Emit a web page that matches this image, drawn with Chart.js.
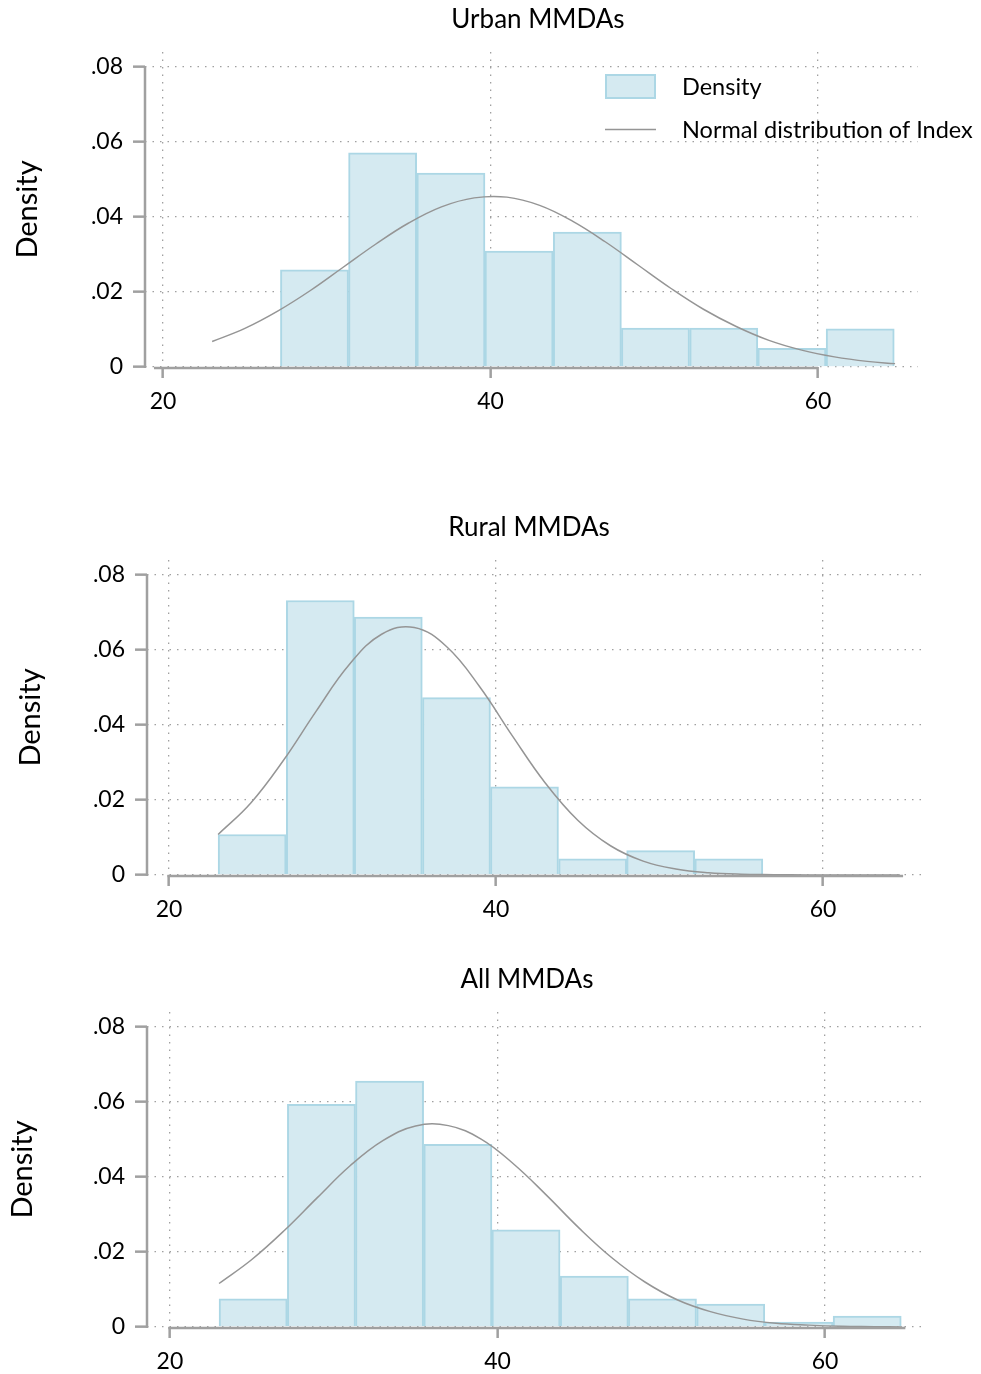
<!DOCTYPE html>
<html>
<head>
<meta charset="utf-8">
<title>Index distribution by MMDA type</title>
<script src="https://cdn.jsdelivr.net/npm/chart.js@4.4.1/dist/chart.umd.min.js"></script>
<style>
  html, body { margin: 0; padding: 0; background: #fff; }
  body { width: 981px; height: 1374px; position: relative; overflow: hidden; }
  canvas { position: absolute; left: 0; }
</style>
</head>
<body>
<canvas id="urbanChart" width="981" height="417" style="top:0"></canvas>
<canvas id="ruralChart" width="981" height="495" style="top:430px"></canvas>
<canvas id="allChart" width="981" height="444" style="top:930px"></canvas>
<script>
// histogram bins (midpoints of the Index), same bins in all three panels
const binMids = [25.08, 29.25, 33.41, 37.58, 41.74, 45.91, 50.07, 54.24, 58.40, 62.57];

const urbanDensity = [null, 0.0259, 0.0571, 0.0517, 0.0309, 0.0360, 0.0104, 0.0104, 0.0050, 0.0102];
const ruralDensity = [0.0108, 0.0732, 0.0688, 0.0473, 0.0235, 0.0043, 0.0065, 0.0043, null, null];
const allDensity   = [0.0075, 0.0594, 0.0656, 0.0487, 0.0259, 0.0136, 0.0075, 0.0061, 0.0013, 0.0029];

// normal curves
const curveX = [23, 25, 27, 29, 31, 33, 35, 37, 39, 41, 43, 45, 47, 49, 51, 53, 55, 57, 59, 61, 63, 64.7];
const urbanNormal = [0.0068, 0.0103, 0.0149, 0.0204, 0.0266, 0.0328, 0.0384, 0.0427, 0.0451, 0.0453, 0.0431,
                     0.0389, 0.0334, 0.0272, 0.0210, 0.0154, 0.0108, 0.0071, 0.0045, 0.0027, 0.0015, 0.0009];
const ruralNormal = [0.0108, 0.0192, 0.0306, 0.0437, 0.0560, 0.0642, 0.0660, 0.0608, 0.0502, 0.0371, 0.0246,
                     0.0146, 0.0078, 0.0037, 0.0016, 0.0006, 0.0002, 0.0001, 0, 0, 0, 0];
const allNormal   = [0.0116, 0.0180, 0.0258, 0.0345, 0.0430, 0.0497, 0.0536, 0.0537, 0.0501, 0.0434, 0.0351,
                     0.0263, 0.0184, 0.0120, 0.0072, 0.0041, 0.0021, 0.0010, 0.0005, 0.0002, 0.0001, 0];

const xTicks = [20, 40, 60];
const yTicks = [0, 0.02, 0.04, 0.06, 0.08];
const yTickLabels = ['0', '.02', '.04', '.06', '.08'];
const seriesLabels = ['Density', 'Normal distribution of Index'];

const FONT = 'Lato, "Open Sans", sans-serif';
const GREY = '#a0a0a0';
const BAR_FILL = '#d5eaf1';
const BAR_LINE = '#acd7e5';
const CURVE = '#959595';

// panel layout (positions only)
const panels = [
  { id: 'urbanChart', title: 'Urban MMDAs', density: urbanDensity, normal: urbanNormal,
    xMin: 18.9, xMax: 66.1, padTop: 52, padRight: 63, yWidth: 145, xHeight: 50,
    titleX: 538, titleY: 20, yTitlePad: 10, axisFrom: 19.45, axisTo: 60, legend: true },
  { id: 'ruralChart', title: 'Rural MMDAs', density: ruralDensity, normal: ruralNormal,
    xMin: 18.65, xMax: 66.24, padTop: 130, padRight: 56, yWidth: 147, xHeight: 50,
    titleX: 529, titleY: 98, yTitlePad: 13, axisFrom: 19.9, axisTo: 64.9, legend: false },
  { id: 'allChart', title: 'All MMDAs', density: allDensity, normal: allNormal,
    xMin: 18.6, xMax: 66.1, padTop: 82, padRight: 56, yWidth: 147, xHeight: 47,
    titleX: 527, titleY: 50, yTitlePad: 5, axisFrom: 19.9, axisTo: 64.9, legend: false }
];

const stataDecor = {
  id: 'stataDecor',
  afterDraw(chart, args, o) {
    const ctx = chart.ctx;
    const xs = chart.scales.x, ys = chart.scales.y;
    const left = chart.chartArea.left;
    ctx.save();
    ctx.strokeStyle = GREY;
    ctx.lineWidth = 2.5;
    ctx.beginPath();
    ctx.moveTo(left, ys.getPixelForValue(yTicks[0]) + 1);
    ctx.lineTo(left, ys.getPixelForValue(yTicks[yTicks.length - 1]));
    ctx.stroke();
    const base = ys.getPixelForValue(0) + 1;
    ctx.beginPath();
    ctx.moveTo(xs.getPixelForValue(o.axisFrom), base);
    ctx.lineTo(xs.getPixelForValue(o.axisTo), base);
    ctx.stroke();

    ctx.fillStyle = '#000';
    ctx.font = '26px ' + FONT;
    ctx.textAlign = 'center';
    ctx.textBaseline = 'middle';
    ctx.fillText(o.title, o.titleX, o.titleY);

    if (o.legend) {
      ctx.fillStyle = BAR_FILL;
      ctx.strokeStyle = BAR_LINE;
      ctx.lineWidth = 2;
      ctx.fillRect(606, 75, 49, 23);
      ctx.strokeRect(606, 75, 49, 23);
      ctx.strokeStyle = CURVE;
      ctx.lineWidth = 1.5;
      ctx.beginPath();
      ctx.moveTo(605, 129.5);
      ctx.lineTo(656, 129.5);
      ctx.stroke();
      ctx.fillStyle = '#000';
      ctx.font = '23.5px ' + FONT;
      ctx.textAlign = 'left';
      ctx.fillText(seriesLabels[0], 682, 87);
      ctx.fillText(seriesLabels[1], 682, 130);
    }
    ctx.restore();
  }
};

function build(p) {
  const bars = binMids
    .map((x, i) => ({ x: x, y: p.density[i] }))
    .filter(d => d.y !== null);
  const curve = curveX.map((x, i) => ({ x: x, y: p.normal[i] }));

  new Chart(document.getElementById(p.id), {
    type: 'bar',
    data: {
      datasets: [
        {
          type: 'line',
          label: seriesLabels[1],
          data: curve,
          borderColor: CURVE,
          borderWidth: 1.5,
          pointRadius: 0,
          tension: 0.4,
          fill: false,
          order: 0
        },
        {
          label: seriesLabels[0],
          data: bars,
          backgroundColor: BAR_FILL,
          borderColor: BAR_LINE,
          borderWidth: 2,
          barPercentage: 1,
          categoryPercentage: 1,
          order: 1
        }
      ]
    },
    options: {
      responsive: false,
      animation: false,
      events: [],
      layout: { padding: { top: p.padTop, right: p.padRight, left: 0, bottom: 0 } },
      plugins: {
        legend: { display: false },
        tooltip: { enabled: false },
        stataDecor: p
      },
      scales: {
        x: {
          type: 'linear',
          offset: false,
          min: p.xMin,
          max: p.xMax,
          afterBuildTicks: s => { s.ticks = xTicks.map(v => ({ value: v })); },
          afterFit: s => { s.height = p.xHeight; },
          grid: {
            offset: false,
            color: GREY, lineWidth: 1.3,
            tickLength: 11, tickColor: GREY, tickWidth: 2.5, tickBorderDash: []
          },
          border: { display: false, dash: [1.5, 6] },
          ticks: { color: '#000', font: { family: FONT, size: 23 }, padding: 10, maxRotation: 0 }
        },
        y: {
          min: 0,
          max: 0.084,
          afterBuildTicks: s => { s.ticks = yTicks.map(v => ({ value: v })); },
          afterFit: s => { s.width = p.yWidth; },
          grid: {
            color: GREY, lineWidth: 1.3,
            tickLength: 12, tickColor: GREY, tickWidth: 2.5, tickBorderDash: []
          },
          border: { display: false, dash: [1.5, 6] },
          ticks: {
            color: '#000',
            font: { family: FONT, size: 23 },
            padding: 10,
            callback: v => yTickLabels[yTicks.indexOf(v)]
          },
          title: {
            display: true,
            text: 'Density',
            color: '#000',
            font: { family: FONT, size: 29 },
            padding: { top: p.yTitlePad, bottom: 0 }
          }
        }
      }
    },
    plugins: [stataDecor]
  });
}

panels.forEach(build);
</script>
</body>
</html>
